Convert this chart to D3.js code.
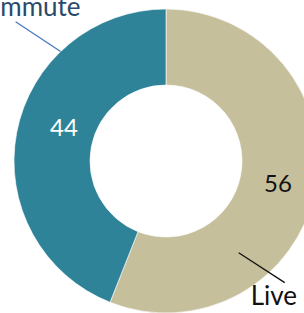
<!DOCTYPE html>
<html>
<head>
<meta charset="utf-8">
<script src="https://d3js.org/d3.v7.min.js"></script>
<style>
  body { margin: 0; background: #fff; overflow: hidden; }
  svg { display: block; }
</style>
</head>
<body>
<svg id="chart" width="304" height="313"></svg>
<script>
// slice data, drawn clockwise from 12 o'clock
var categories = ["Live", "Commute"];
var values = [56, 44];
var colors = ["#c6bf9b", "#2f8399"];
var valueColors = ["#111111", "#ffffff"];
var nameColors = ["#111111", "#2b4a6b"];
var lineColors = ["#111111", "#4a78c2"];

var WIDTH = 304, HEIGHT = 313,
	cx = 166, cy = 161,
	outerR = 152, innerR = 76;

var data = categories.map(function(c, i) {
	return { name: c, value: values[i], color: colors[i], i: i };
});

var svg = d3.select("#chart");
var g = svg.append("g").attr("transform", "translate(" + cx + "," + cy + ")");

var pie = d3.pie().sort(null).value(function(d) { return d.value; });
var arc = d3.arc().innerRadius(innerR).outerRadius(outerR);
var labelArc = d3.arc().innerRadius(114).outerRadius(114);
var arcs = pie(data);

g.selectAll("path.slice").data(arcs).enter().append("path")
	.attr("class", "slice")
	.attr("d", arc)
	.attr("fill", function(d) { return d.data.color; })
	.attr("stroke", "#ffffff")
	.attr("stroke-width", 0.6);

// value labels, nudged like the original
var nudge = [[0, 1], [10, -12]];
g.selectAll("text.val").data(arcs).enter().append("text")
	.attr("class", "val")
	.attr("x", function(d) { return labelArc.centroid(d)[0] + nudge[d.data.i][0]; })
	.attr("y", function(d) { return labelArc.centroid(d)[1] + nudge[d.data.i][1]; })
	.attr("dy", "0.35em")
	.attr("text-anchor", "middle")
	.style("font-family", "Lato, 'Open Sans', sans-serif")
	.style("font-size", "24px")
	.style("fill", function(d) { return valueColors[d.data.i]; })
	.text(function(d) { return d.data.value; });

// category labels with leader lines (angles in degrees, clockwise from top)
function pointAt(deg, r) {
	var a = deg * Math.PI / 180;
	return [Math.sin(a) * r, -Math.cos(a) * r];
}
var callout = [
	{ a0: 141.6, r0: 117, a1: 135.7, r1: 170, textDx: -34, textDy: 22, anchor: "start" },
	{ a0: 316.1, r0: 152, a1: 312.8, r1: 205, textDx: 65, textDy: -6, anchor: "end" }
];
arcs.forEach(function(d) {
	var c = callout[d.data.i];
	var p0 = pointAt(c.a0, c.r0), p1 = pointAt(c.a1, c.r1);
	g.append("line")
		.attr("x1", p0[0]).attr("y1", p0[1])
		.attr("x2", p1[0]).attr("y2", p1[1])
		.attr("stroke", lineColors[d.data.i])
		.attr("stroke-width", 1.3);
	g.append("text")
		.attr("x", p1[0] + c.textDx)
		.attr("y", p1[1] + c.textDy)
		.attr("text-anchor", c.anchor)
		.style("font-family", "Lato, 'Open Sans', sans-serif")
		.style("font-size", "26px")
		.style("fill", nameColors[d.data.i])
		.text(d.data.name);
});
</script>
</body>
</html>
